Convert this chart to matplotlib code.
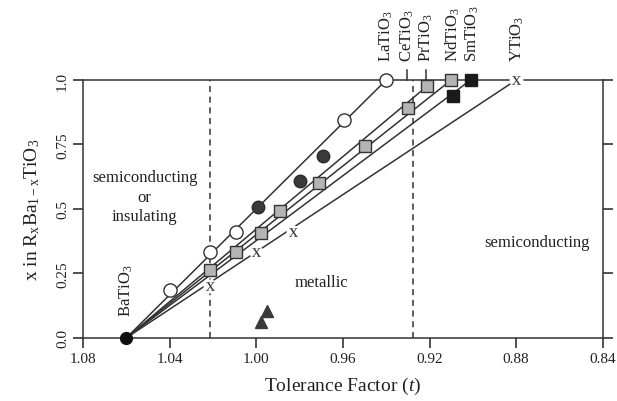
import numpy as np
import matplotlib.pyplot as plt

plt.rcParams['font.family'] = ['Liberation Serif', 'DejaVu Serif']
plt.rcParams['mathtext.fontset'] = 'custom'
plt.rcParams['mathtext.rm'] = 'Liberation Serif'
plt.rcParams['mathtext.it'] = 'Liberation Serif:italic'

# end members (tolerance factor, x)
t_ba = 1.06
end_names = ["LaTiO$_3$", "CeTiO$_3$", "PrTiO$_3$", "NdTiO$_3$", "SmTiO$_3$", "YTiO$_3$"]
end_t = [0.940, 0.9304, 0.9217, 0.9093, 0.9001, 0.8794]

# lines drawn from BaTiO3 to these end points
line_t = [0.940, 0.921, 0.910, 0.901, 0.880]
line_x = [1.0, 0.977, 1.0, 1.0, 1.0]

# La series (open circles)
la_t = [1.0396, 1.0212, 1.0093, 0.9597, 0.940]
la_x = [0.186, 0.333, 0.410, 0.845, 1.0]

# dark filled circles
ce_t = [0.9992, 0.980, 0.969]
ce_x = [0.508, 0.608, 0.705]

# gray squares (Pr / Nd)
sq_t = [1.0212, 1.0093, 0.998, 0.989, 0.971, 0.950, 0.930, 0.921, 0.910]
sq_x = [0.264, 0.333, 0.407, 0.492, 0.600, 0.744, 0.890, 0.977, 1.0]

# black squares (Sm)
sm_t = [0.909, 0.901]
sm_x = [0.938, 1.0]

# x markers (Y)
y_t = [1.0212, 1.0, 0.983, 0.880]
y_x = [0.200, 0.333, 0.410, 1.0]

# triangles
tri_t = [0.998, 0.995]
tri_x = [0.062, 0.105]

# dashed boundaries
bounds = [1.0215, 0.9276]

fig, ax = plt.subplots(figsize=(6.17, 4.02), dpi=100)
fig.subplots_adjust(left=0.1345, right=0.977, bottom=0.157, top=0.7985)

lc = '#333333'
for t, x in zip(line_t, line_x):
    ax.plot([t_ba, t], [0, x], color=lc, lw=1.1, zorder=2)

for b in bounds:
    ax.plot([b, b], [0, 1], color=lc, lw=1.1, linestyle=(0, (4, 3)), zorder=1)

ax.plot(la_t, la_x, 'o', ms=9.5, mfc='white', mec=lc, mew=1.0, zorder=5, clip_on=False)
ax.plot(ce_t, ce_x, 'o', ms=9, mfc='#3a3a3a', mec='#2a2a2a', zorder=5)
ax.plot(sq_t, sq_x, 's', ms=8, mfc='#b4b4b4', mec=lc, mew=1.0, zorder=5, clip_on=False)
ax.plot(sm_t, sm_x, 's', ms=8, mfc='#1a1a1a', mec='#1a1a1a', zorder=5, clip_on=False)
ax.plot(y_t, y_x, 'o', ms=10, mfc='white', mec='none', zorder=4, clip_on=False)
ax.plot(y_t, y_x, marker='$\\mathregular{x}$', ls='none', ms=6.5, mew=0, color='#333333',
        zorder=5, clip_on=False)
ax.plot(tri_t, tri_x, '^', ms=8, mfc='#3a3a3a', mec='#3a3a3a', zorder=5)
ax.plot([t_ba], [0], 'o', ms=8.5, color='#111111', zorder=6, clip_on=False)

# small marks for Ce and Pr at the top
for t in end_t[1:3]:
    ax.plot([t, t], [1.0, 1.04], color=lc, lw=1.1, clip_on=False)

for name, t in zip(end_names, end_t):
    ax.text(t, 1.072, name, rotation=90, ha='center', va='bottom', fontsize=12, color='#222222')

ax.text(t_ba, 0.085, "BaTiO$_3$", rotation=90, ha='center', va='bottom', fontsize=12, color='#222222')
ax.text(1.0515, 0.547, "semiconducting\nor\ninsulating", ha='center', va='center',
        fontsize=12, color='#222222', linespacing=1.3)
ax.text(0.970, 0.217, "metallic", ha='center', va='center', fontsize=12, color='#222222')
ax.text(0.8703, 0.372, "semiconducting", ha='center', va='center', fontsize=12, color='#222222')

ax.set_xlim(1.08, 0.84)
ax.set_ylim(0, 1)
ax.set_xticks([1.08, 1.04, 1.00, 0.96, 0.92, 0.88, 0.84])
ax.set_xticklabels(["1.08", "1.04", "1.00", "0.96", "0.92", "0.88", "0.84"])
ax.set_yticks([0, 0.25, 0.5, 0.75, 1.0])
ax.set_yticklabels(["0.0", "0.25", "0.5", "0.75", "1.0"], rotation=90, va='center')
ax.tick_params(direction='out', length=7, width=1.1, labelsize=11, colors='#222222')
ax.tick_params(axis='y', right=True, pad=3)
ax.tick_params(axis='x', pad=3)

for s in ax.spines.values():
    s.set_linewidth(1.1)
    s.set_color(lc)

ax.set_xlabel("Tolerance Factor ($\\it{t}$)", fontsize=14, labelpad=7, color='#222222')
ax.set_ylabel("x in R$_\\mathregular{x}$Ba$_\\mathregular{1-x}$TiO$_\\mathregular{3}$",
              fontsize=14, labelpad=10, color='#222222')

fig.savefig("out.png", dpi=100)
